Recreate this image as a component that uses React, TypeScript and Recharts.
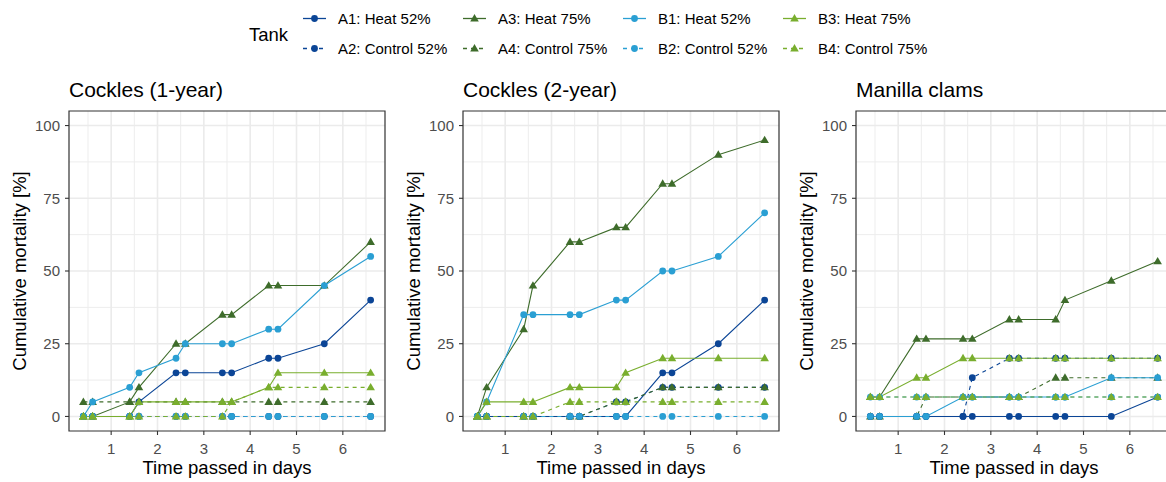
import React from 'react';
import { LineChart, Line, XAxis, YAxis, CartesianGrid, ReferenceArea } from 'recharts';

const FONT = '"Liberation Sans", Arial, Helvetica, sans-serif';

// ---------- data ----------
const times = [0.4, 0.6, 1.4, 1.6, 2.4, 2.6, 3.4, 3.6, 4.4, 4.6, 5.6, 6.6];
const tankKeys = ['A1', 'A2', 'A3', 'A4', 'B1', 'B2', 'B3', 'B4'];
const tankLabels = [
  'A1: Heat 52%', 'A2: Control 52%', 'A3: Heat 75%', 'A4: Control 75%',
  'B1: Heat 52%', 'B2: Control 52%', 'B3: Heat 75%', 'B4: Control 75%',
];
const panelTitles = ['Cockles (1-year)', 'Cockles (2-year)', 'Manilla clams'];
const xTicks = [1, 2, 3, 4, 5, 6];
const xMinor = [0.5, 1.5, 2.5, 3.5, 4.5, 5.5, 6.5];
const yTicks = [0, 25, 50, 75, 100];
const yMinor = [12.5, 37.5, 62.5, 87.5];

// Cockles (1-year)
const c1A1 = [0, 0, 0, 5, 15, 15, 15, 15, 20, 20, 25, 40];
const c1A2 = [0, 0, 0, 0, 0, 0, 0, 0, 0, 0, 0, 0];
const c1A3 = [0, 0, 5, 10, 25, 25, 35, 35, 45, 45, 45, 60];
const c1A4 = [5, 5, 5, 5, 5, 5, 5, 5, 5, 5, 5, 5];
const c1B1 = [0, 5, 10, 15, 20, 25, 25, 25, 30, 30, 45, 55];
const c1B2 = [0, 0, 0, 0, 0, 0, 0, 0, 0, 0, 0, 0];
const c1B3 = [0, 0, 0, 5, 5, 5, 5, 5, 10, 15, 15, 15];
const c1B4 = [0, 0, 0, 0, 0, 0, 0, 5, 10, 10, 10, 10];

// Cockles (2-year)
const c2A1 = [0, 0, 0, 0, 0, 0, 0, 0, 15, 15, 25, 40];
const c2A2 = [0, 0, 0, 0, 0, 0, 5, 5, 10, 10, 10, 10];
const c2A3 = [0, 10, 30, 45, 60, 60, 65, 65, 80, 80, 90, 95];
const c2A4 = [0, 0, 0, 0, 0, 0, 5, 5, 10, 10, 10, 10];
const c2B1 = [0, 5, 35, 35, 35, 35, 40, 40, 50, 50, 55, 70];
const c2B2 = [0, 0, 0, 0, 0, 0, 0, 0, 0, 0, 0, 0];
const c2B3 = [0, 5, 5, 5, 10, 10, 10, 15, 20, 20, 20, 20];
const c2B4 = [0, 0, 0, 0, 5, 5, 5, 5, 5, 5, 5, 5];

// Manilla clams
const mcA1 = [0, 0, 0, 0, 0, 0, 0, 0, 0, 0, 0, 6.67];
const mcA2 = [0, 0, 0, 0, 0, 13.33, 20, 20, 20, 20, 20, 20];
const mcA3 = [6.67, 6.67, 26.67, 26.67, 26.67, 26.67, 33.33, 33.33, 33.33, 40, 46.67, 53.33];
const mcA4 = [0, 0, 0, 6.67, 6.67, 6.67, 6.67, 6.67, 13.33, 13.33, 13.33, 13.33];
const mcB1 = [0, 0, 0, 0, 6.67, 6.67, 6.67, 6.67, 6.67, 6.67, 13.33, 13.33];
const mcB2 = [6.67, 6.67, 6.67, 6.67, 6.67, 6.67, 6.67, 6.67, 6.67, 6.67, 6.67, 6.67];
const mcB3 = [6.67, 6.67, 13.33, 13.33, 20, 20, 20, 20, 20, 20, 20, 20];
const mcB4 = [6.67, 6.67, 6.67, 6.67, 6.67, 6.67, 6.67, 6.67, 6.67, 6.67, 6.67, 6.67];

const panelSeries = [
  [c1A1, c1A2, c1A3, c1A4, c1B1, c1B2, c1B3, c1B4],
  [c2A1, c2A2, c2A3, c2A4, c2B1, c2B2, c2B3, c2B4],
  [mcA1, mcA2, mcA3, mcA4, mcB1, mcB2, mcB3, mcB4],
];

// ---------- styles ----------
const tankStyle: Record<string, { color: string; dashed: boolean; shape: 'circle' | 'triangle' }> = {
  A1: { color: '#0b4596', dashed: false, shape: 'circle' },
  A2: { color: '#0b4596', dashed: true, shape: 'circle' },
  A3: { color: '#3e6c2b', dashed: false, shape: 'triangle' },
  A4: { color: '#3e6c2b', dashed: true, shape: 'triangle' },
  B1: { color: '#2a9fd3', dashed: false, shape: 'circle' },
  B2: { color: '#2a9fd3', dashed: true, shape: 'circle' },
  B3: { color: '#79ae2e', dashed: false, shape: 'triangle' },
  B4: { color: '#79ae2e', dashed: true, shape: 'triangle' },
};

const PLOT_W = 316;
const PLOT_H = 320;
const CHART_TOP = 70;
const M_TOP = 41;
const AXIS_ROOM = 69;
const Y_AXIS_W = 40;
const panelLefts = [69, 463, 856];

function buildRows(series: number[][]) {
  return times.map((t, i) => {
    const row: Record<string, number> = { t };
    tankKeys.forEach((k, j) => {
      row[k] = series[j][i];
    });
    return row;
  });
}

function markerPath(shape: string, cx: number, cy: number) {
  if (shape === 'circle') return null;
  return `M${cx},${cy - 4.4}L${cx + 4.3},${cy + 3}L${cx - 4.3},${cy + 3}Z`;
}

const makeDot = (shape: string, color: string) => (props: any) => {
  const { cx, cy, index } = props;
  if (cx == null || cy == null) return <g key={`e${index}`} />;
  if (shape === 'circle') {
    return <circle key={`d${index}`} cx={cx} cy={cy} r={3.4} fill={color} />;
  }
  return <path key={`d${index}`} d={markerPath(shape, cx, cy) as string} fill={color} />;
};

function Panel({ title, rows, plotLeft }: { title: string; rows: any[]; plotLeft: number }) {
  const width = AXIS_ROOM + PLOT_W + 14;
  return (
    <div style={{ position: 'absolute', left: plotLeft - AXIS_ROOM, top: CHART_TOP }}>
      <LineChart
        width={width}
        height={412}
        data={rows}
        margin={{ top: M_TOP, right: 14, bottom: 0, left: AXIS_ROOM - Y_AXIS_W }}
      >
        <CartesianGrid verticalValues={xMinor} horizontalValues={yMinor} stroke="#ededed" strokeWidth={1} />
        <CartesianGrid verticalValues={xTicks} horizontalValues={yTicks} stroke="#ebebeb" strokeWidth={1.6} />
        <XAxis
          type="number"
          dataKey="t"
          domain={[0.09, 6.91]}
          ticks={xTicks}
          allowDataOverflow
          interval={0}
          height={51}
          axisLine={false}
          tickLine={{ stroke: '#333333', strokeWidth: 1.1 }}
          tickSize={4}
          tickMargin={8}
          tick={{ fill: '#4d4d4d', fontSize: 15, fontFamily: FONT }}
        />
        <YAxis
          type="number"
          domain={[-5, 105]}
          ticks={yTicks}
          allowDataOverflow
          interval={0}
          width={Y_AXIS_W}
          axisLine={false}
          tickLine={{ stroke: '#333333', strokeWidth: 1.1 }}
          tickSize={4}
          tickMargin={5}
          tick={{ fill: '#4d4d4d', fontSize: 15, fontFamily: FONT }}
        />
        <ReferenceArea
          x1={0.09}
          x2={6.91}
          y1={-5}
          y2={105}
          fill="none"
          fillOpacity={0}
          stroke="#333333"
          strokeWidth={1.2}
          ifOverflow="visible"
        />
        {tankKeys.map((k) => (
          <Line
            key={`line-${k}`}
            type="linear"
            dataKey={k}
            stroke={tankStyle[k].color}
            strokeWidth={1.1}
            strokeDasharray={tankStyle[k].dashed ? '4 4' : undefined}
            dot={false}
            activeDot={false}
            isAnimationActive={false}
          />
        ))}
        {tankKeys.map((k) => (
          <Line
            key={`pts-${k}`}
            type="linear"
            dataKey={k}
            stroke="none"
            strokeWidth={0}
            dot={makeDot(tankStyle[k].shape, tankStyle[k].color)}
            activeDot={false}
            isAnimationActive={false}
          />
        ))}
        <text x={AXIS_ROOM} y={27} fontSize={21} fontFamily={FONT} fill="#000000">
          {title}
        </text>
        <text
          x={AXIS_ROOM + PLOT_W / 2}
          y={404}
          textAnchor="middle"
          fontSize={18.5}
          fontFamily={FONT}
          fill="#000000"
        >
          Time passed in days
        </text>
        <text
          transform="rotate(-90)"
          x={-(M_TOP + PLOT_H / 2)}
          y={26}
          textAnchor="middle"
          fontSize={18.5}
          fontFamily={FONT}
          fill="#000000"
        >
          Cumulative mortality [%]
        </text>
      </LineChart>
    </div>
  );
}

function TankLegend() {
  const colX = [303, 463, 623, 783];
  const rowY = [18.5, 48.5];
  return (
    <svg width={1166} height={64} style={{ position: 'absolute', left: 0, top: 0 }}>
      <text x={249} y={40.5} fontSize={18.5} fontFamily={FONT} fill="#000000">
        Tank
      </text>
      {tankKeys.map((k, i) => {
        const col = Math.floor(i / 2);
        const row = i % 2;
        const x0 = colX[col];
        const y = rowY[row];
        const st = tankStyle[k];
        const mx = x0 + 11.5;
        return (
          <g key={`lg-${k}`}>
            <line
              x1={x0}
              x2={x0 + 23}
              y1={y}
              y2={y}
              stroke={st.color}
              strokeWidth={1.3}
              strokeDasharray={st.dashed ? '4 4' : undefined}
            />
            {st.shape === 'circle' ? (
              <circle cx={mx} cy={y} r={3.4} fill={st.color} />
            ) : (
              <path d={markerPath('triangle', mx, y) as string} fill={st.color} />
            )}
            <text x={x0 + 35} y={y + 5.4} fontSize={15} fontFamily={FONT} fill="#000000">
              {tankLabels[i]}
            </text>
          </g>
        );
      })}
    </svg>
  );
}

export default function App() {
  return (
    <div
      style={{
        position: 'fixed',
        left: 0,
        top: 0,
        width: 1166,
        height: 482,
        overflow: 'hidden',
        background: '#ffffff',
        fontFamily: FONT,
      }}
    >
      <TankLegend />
      {panelTitles.map((title, p) => (
        <Panel key={title} title={title} rows={buildRows(panelSeries[p])} plotLeft={panelLefts[p]} />
      ))}
    </div>
  );
}
